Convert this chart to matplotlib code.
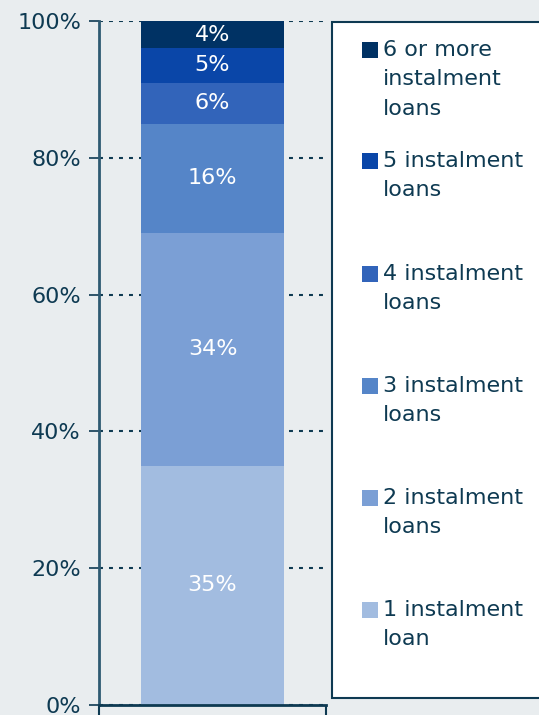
import matplotlib.pyplot as plt
from matplotlib.patches import Rectangle
from matplotlib.ticker import FuncFormatter

# share of loans by number of instalments
labels = ['1 instalment\nloan', '2 instalment\nloans', '3 instalment\nloans',
          '4 instalment\nloans', '5 instalment\nloans', '6 or more\ninstalment\nloans']
shares = [35, 34, 16, 6, 5, 4]
colors = ['#A2BCE0', '#7B9FD5', '#5585C8', '#3264BA', '#0A46A8', '#003264']

bg = '#E9EDEF'
ink = '#0E3A52'

fig = plt.figure(figsize=(5.39, 7.15), dpi=100, facecolor=bg)
ax = fig.add_axes([99 / 539, 10 / 715, 227 / 539, 684 / 715], facecolor=bg)

bottom = 0
for s, c in zip(shares, colors):
    ax.bar(0.5, s, width=0.63, bottom=bottom, color=c, zorder=3)
    ax.text(0.5, bottom + s / 2, f'{s}%', ha='center', va='center',
            color='white', fontsize=16, zorder=4)
    bottom += s

ax.set_xlim(0, 1)
ax.set_ylim(0, 100)
ax.set_yticks([0, 20, 40, 60, 80, 100])
ax.yaxis.set_major_formatter(FuncFormatter(lambda v, p: f'{v:.0f}%'))
ax.tick_params(axis='y', colors=ink, labelsize=16, length=7, width=1.2, pad=6)
ax.tick_params(axis='x', length=7, width=1.5, color=ink)
ax.set_xticks([0, 1])
ax.set_xticklabels(['', ''])
ax.grid(axis='y', color=ink, linestyle=(0, (1.9, 2.9)), linewidth=1.5, zorder=1)
for side in ['top', 'right']:
    ax.spines[side].set_visible(False)
ax.spines['left'].set_color('#2E5A72')
ax.spines['left'].set_linewidth(2)
ax.spines['bottom'].set_color(ink)
ax.spines['bottom'].set_linewidth(2)
ax.spines['left'].set_zorder(5)
ax.spines['bottom'].set_zorder(5)

# legend box on the right
W, H = 539, 715
fig.patches.append(Rectangle((332 / W, 1 - 698 / H), 220 / W, 676 / H,
                             transform=fig.transFigure, facecolor='white',
                             edgecolor=ink, linewidth=1.5))
rows = [610, 498, 386, 274, 161, 50]
for lab, c, y in zip(labels, colors, rows):
    fig.patches.append(Rectangle((362 / W, 1 - (y + 8) / H), 16 / W, 16 / H,
                                 transform=fig.transFigure, facecolor=c,
                                 edgecolor='none'))
    fig.text(383 / W, 1 - (y - 10) / H, lab, ha='left', va='top',
             color=ink, fontsize=16, linespacing=1.58)

fig.savefig('out.png', dpi=100, facecolor=bg)
